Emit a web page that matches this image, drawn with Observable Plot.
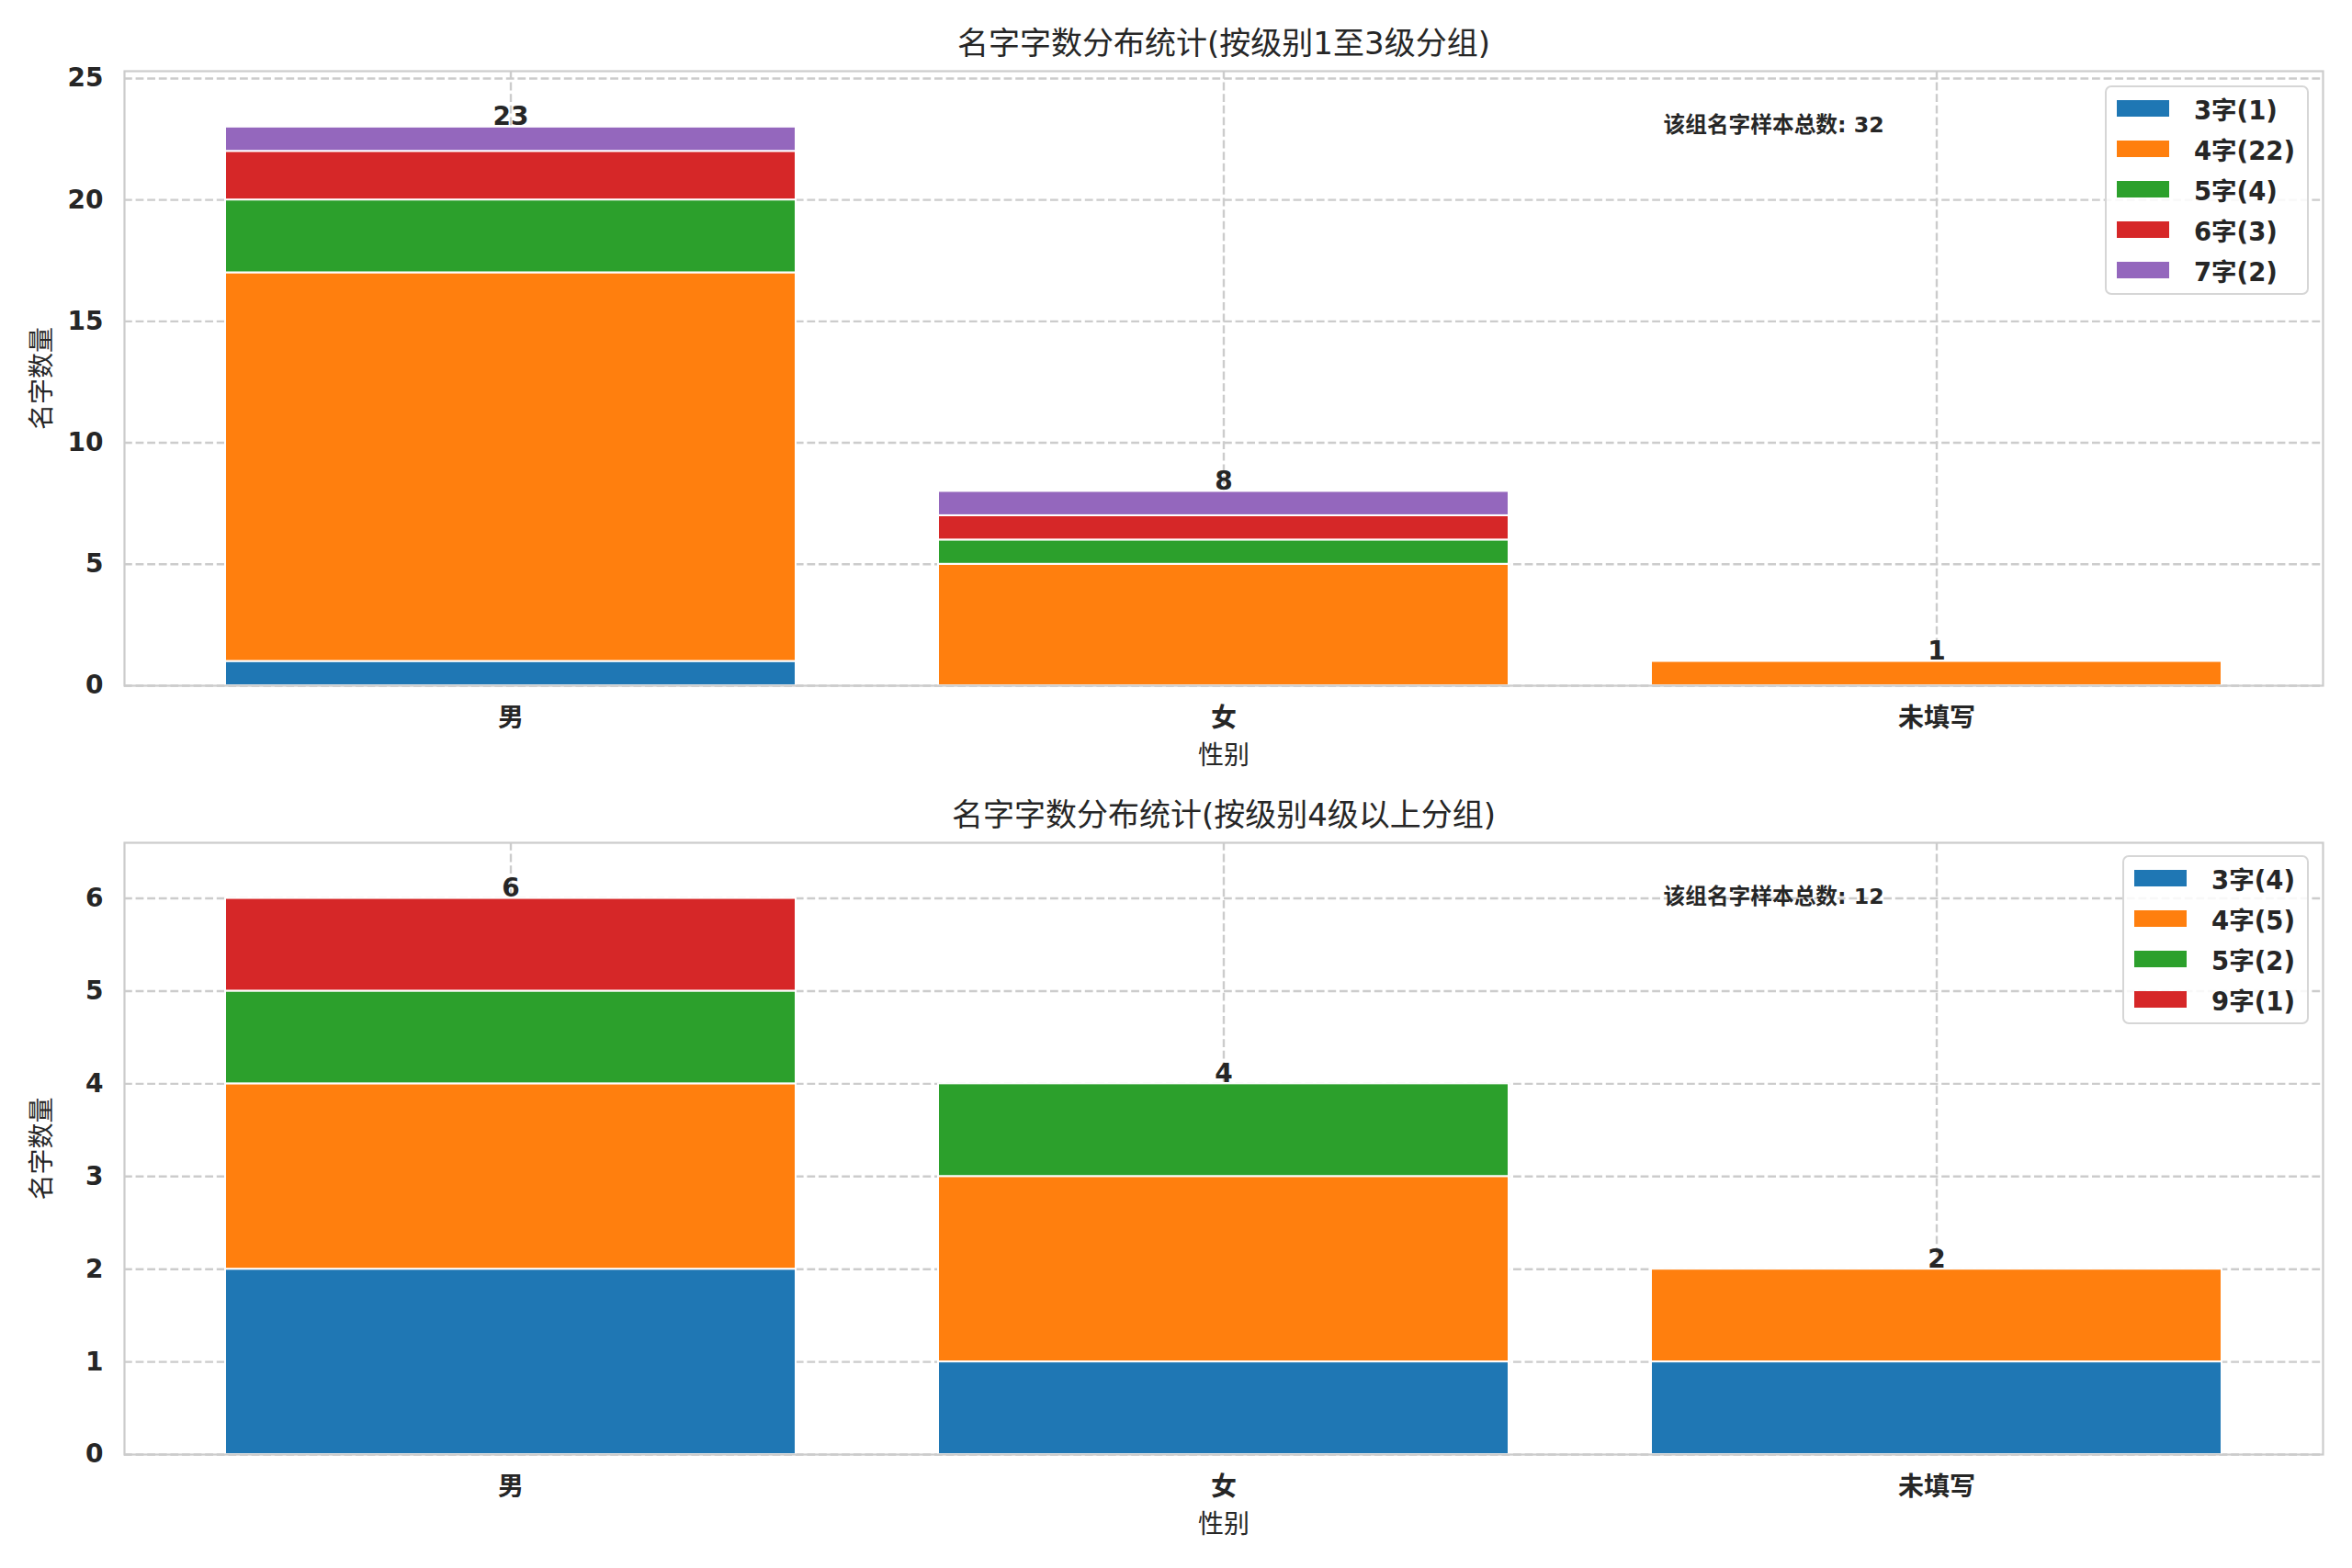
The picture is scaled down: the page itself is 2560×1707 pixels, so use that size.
<!DOCTYPE html>
<html>
<head>
<meta charset="utf-8">
<script src="https://cdn.jsdelivr.net/npm/d3@7"></script>
<script src="https://cdn.jsdelivr.net/npm/@observablehq/plot@0.6"></script>
<style>
  html, body { margin: 0; padding: 0; background: #ffffff; }
  body { width: 2560px; height: 1707px; overflow: hidden; font-family: "DejaVu Sans", "Noto Sans CJK SC", sans-serif; color: #262626; }
  .panel { position: relative; width: 2560px; }
  .panel svg { display: block; }
  .legend { position: absolute; border: 2px solid #d6d6d6; border-radius: 7px; background: rgba(255,255,255,0.85); padding: 1px 13px 3px 11px; }
  .legend .row { height: 44px; display: flex; align-items: center; font-weight: bold; font-size: 27.5px; white-space: nowrap; }
  .legend .sw { width: 57px; height: 18px; margin-right: 27px; flex: none; }
</style>
</head>
<body>
<div id="chart"></div>
<script>
// ---- data ----
const categories = ["男", "女", "未填写"];
const colors = ["#1f77b4", "#ff7f0e", "#2ca02c", "#d62728", "#9467bd"];

const title1 = "名字字数分布统计(按级别1至3级分组)";
const series1 = ["3字(1)", "4字(22)", "5字(4)", "6字(3)", "7字(2)"];
const values1 = [
  [1, 0, 0],
  [16, 5, 1],
  [3, 1, 0],
  [2, 1, 0],
  [1, 1, 0]
];
const note1 = "该组名字样本总数: 32";
const yTicks1 = [0, 5, 10, 15, 20, 25];
const yMax1 = 25.3;

const title2 = "名字字数分布统计(按级别4级以上分组)";
const series2 = ["3字(4)", "4字(5)", "5字(2)", "9字(1)"];
const values2 = [
  [2, 1, 1],
  [2, 2, 1],
  [1, 1, 0],
  [1, 0, 0]
];
const note2 = "该组名字样本总数: 12";
const yTicks2 = [0, 1, 2, 3, 4, 5, 6];
const yMax2 = 6.6;

const xLabel = "性别";
const yLabel = "名字数量";

// ---- drawing ----
const fontFamily = "'DejaVu Sans', 'Noto Sans CJK SC', sans-serif";
const gridStyle = {stroke: "#cccccc", strokeOpacity: 1, strokeWidth: 2.4, strokeDasharray: "8.8,3.8"};

function panel({title, series, values, note, yTicks, yMax, height, marginTop, marginBottom, legendTop}) {
  const rows = [];
  series.forEach((s, i) => categories.forEach((c, j) => {
    if (values[i][j] > 0) rows.push({cat: c, s, v: values[i][j]});
  }));
  const totals = categories.map((c, j) => ({cat: c, total: d3.sum(values, r => r[j])}));

  const plot = Plot.plot({
    width: 2560,
    height,
    marginTop,
    marginBottom,
    marginLeft: 135,
    marginRight: 32,
    style: {fontFamily, fontSize: "28px", color: "#262626", background: "white"},
    x: {type: "band", domain: categories, paddingInner: 0.2, paddingOuter: 0.14},
    y: {domain: [0, yMax]},
    color: {domain: series, range: colors.slice(0, series.length)},
    marks: [
      Plot.gridY(yTicks, gridStyle),
      Plot.gridX(gridStyle),
      Plot.barY(rows, {x: "cat", y: "v", fill: "s", stroke: "white", strokeWidth: 2}),
      Plot.frame({stroke: "#cccccc", strokeWidth: 2.2}),
      Plot.axisY({ticks: yTicks, tickFormat: d => String(d), tickSize: 0, tickPadding: 23, fontWeight: "bold", fontSize: 28, label: null}),
      Plot.axisX({tickSize: 0, tickPadding: 25, fontWeight: "bold", fontSize: 28, label: null}),
      Plot.text(totals, {x: "cat", y: "total", text: d => String(d.total), lineAnchor: "bottom", dy: -2, fontWeight: "bold", fontSize: 28, fill: "#262626"}),
      Plot.text([title], {text: d => d, frameAnchor: "top", dy: -29, lineAnchor: "middle", fontSize: 34, fill: "#262626"}),
      Plot.text([note], {text: d => d, frameAnchor: "top-left", dx: 1675, dy: 59, textAnchor: "start", lineAnchor: "middle", fontSize: 23.7, fontWeight: "bold", fill: "#262626"}),
      Plot.text([xLabel], {text: d => d, frameAnchor: "bottom", dy: 77, textAnchor: "middle", lineAnchor: "middle", fontSize: 28, fill: "#262626"}),
      Plot.text([yLabel], {text: d => d, frameAnchor: "left", dx: -89, rotate: -90, textAnchor: "middle", lineAnchor: "middle", fontSize: 28, fill: "#262626"})
    ]
  });

  const div = document.createElement("div");
  div.className = "panel";
  div.appendChild(plot);

  const legend = document.createElement("div");
  legend.className = "legend";
  legend.style.right = "47px";
  legend.style.top = legendTop + "px";
  series.forEach((s, i) => {
    const row = document.createElement("div");
    row.className = "row";
    const sw = document.createElement("span");
    sw.className = "sw";
    sw.style.background = colors[i];
    const t = document.createElement("span");
    t.textContent = s;
    row.appendChild(sw);
    row.appendChild(t);
    legend.appendChild(row);
  });
  div.appendChild(legend);
  return div;
}

const root = document.getElementById("chart");
root.appendChild(panel({title: title1, series: series1, values: values1, note: note1, yTicks: yTicks1, yMax: yMax1,
  height: 853, marginTop: 77, marginBottom: 107, legendTop: 93}));
root.appendChild(panel({title: title2, series: series2, values: values2, note: note2, yTicks: yTicks2, yMax: yMax2,
  height: 854, marginTop: 64, marginBottom: 124, legendTop: 78}));
</script>
</body>
</html>
